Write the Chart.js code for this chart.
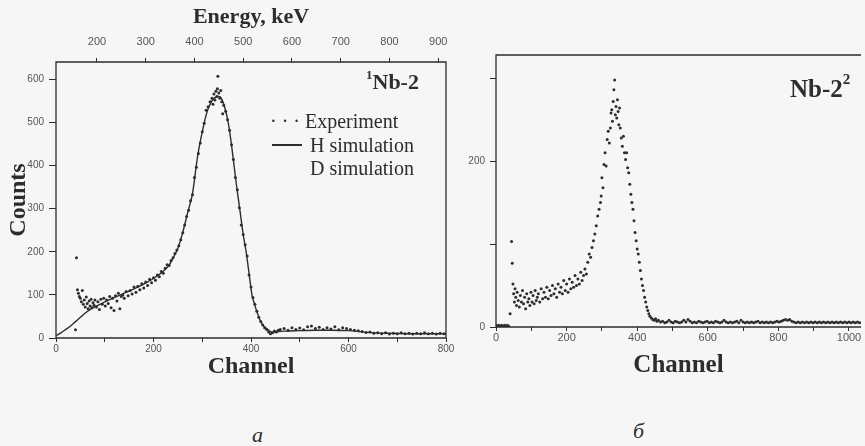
<!DOCTYPE html>
<html>
<head>
<meta charset="utf-8">
<script src="https://cdn.jsdelivr.net/npm/chart.js@4.4.1/dist/chart.umd.min.js"></script>
<style>
  body { margin: 0; background: #f6f6f6; }
  #page { position: relative; width: 865px; height: 446px; overflow: hidden; background: #f6f6f6;
          font-family: "Liberation Serif", "Times New Roman", serif; color: #2d2d2d; }
  canvas { position: absolute; top: 0; }
  #chart-a { left: 0; }
  #chart-b { left: 460px; }
  .txt { position: absolute; white-space: nowrap; line-height: 1; }
  .tag { font-weight: bold; }
  .tag sup { font-size: 13px; position: relative; top: -2px; }
  .leg { font-size: 20px; }
  .panel { font-style: italic; font-size: 22px; }
  .dash { position: absolute; height: 2px; background: #2d2d2d; }
</style>
</head>
<body>
<div id="page">
  <canvas id="chart-a" width="460" height="400"></canvas>
  <canvas id="chart-b" width="405" height="400"></canvas>

  <div class="txt tag" style="left:366px; top:70px; font-size:22px;"><sup>1</sup>Nb-2</div>
  <div class="txt leg" style="left:270px; top:111px;">· · · Experiment</div>
  <div class="dash" style="left:272px; top:144px; width:30px;"></div>
  <div class="txt leg" style="left:310px; top:135px;">H simulation</div>
  <div class="txt leg" style="left:310px; top:158px;">D simulation</div>
  <div class="txt panel" style="left:252px; top:424px;">a</div>

  <div class="txt tag" style="left:790px; top:76px; font-size:25px;">Nb-2<sup style="font-size:15px; top:-4px;">2</sup></div>
  <div class="txt panel" style="left:633px; top:420px;">б</div>
</div>

<script>
// panel a: experiment points
const expChannelA = [
  40, 42, 44, 46, 48, 50, 52, 54, 56, 58, 60, 62, 64, 66, 68, 70, 72, 74, 76, 78,
  80, 83, 86, 89, 92, 95, 98, 101, 104, 107, 110, 113, 116, 119, 122, 125, 128, 131, 134, 137,
  140, 144, 148, 152, 156, 160, 164, 168, 172, 176, 180, 184, 188, 192, 196, 200, 204, 208, 212, 216,
  220, 224, 228, 232, 236, 240, 244, 248, 252, 256, 260, 264, 268, 272, 276, 280, 284, 288, 292, 296,
  300, 304, 308, 312, 316, 320, 322, 324, 326, 328, 330, 331, 332, 334, 336, 338, 340, 342, 344, 348,
  352, 356, 360, 364, 368, 372, 376, 380, 384, 388, 392, 396, 400, 404, 408, 412, 416, 420, 424, 428,
  432, 436, 440, 444, 448, 452, 456, 460, 468, 476, 484, 492, 500, 508, 516, 524, 532, 540, 548, 556,
  564, 572, 580, 588, 596, 604, 612, 620, 628, 636, 644, 652, 660, 668, 676, 684, 692, 700, 708, 716,
  724, 732, 740, 748, 756, 764, 772, 780, 788, 796
];
const expCountsA = [
  19, 186, 112, 104, 96, 92, 84, 110, 78, 88, 72, 95, 80, 68, 86, 74, 90, 70, 82, 76,
  88, 72, 84, 66, 90, 78, 92, 74, 88, 80, 96, 70, 92, 64, 98, 86, 104, 68, 96, 100,
  92, 108, 98, 110, 102, 118, 106, 120, 112, 126, 116, 130, 122, 136, 128, 140, 134, 146, 142, 154,
  150, 162, 170, 168, 180, 186, 196, 204, 214, 228, 244, 262, 282, 296, 318, 332, 372, 396, 428, 452,
  478, 498, 528, 536, 548, 556, 542, 566, 552, 572, 560, 578, 607, 568, 556, 574, 548, 520, 540, 526,
  506, 482, 448, 414, 372, 344, 302, 262, 240, 216, 190, 146, 118, 94, 78, 62, 48, 38, 30, 24,
  20, 14, 10, 12, 16, 14, 18, 20, 22, 18, 24, 20, 23, 19, 26, 28, 22, 25, 20, 24,
  21, 26, 19, 24, 22, 20, 18, 17, 15, 13, 14, 11, 12, 10, 12, 9, 11, 10, 12, 10,
  11, 9, 11, 10, 12, 10, 11, 9, 11, 10
];

// panel a: H simulation curve
const hChannelA = [
  0, 10, 20, 30, 40, 50, 60, 70, 80, 90, 100, 120, 140, 160, 180, 200, 215, 230, 240, 250,
  260, 270, 280, 290, 300, 310, 320, 330, 338, 346, 354, 362, 370, 378, 384, 390, 396, 402, 408, 414,
  420, 426, 432, 438, 444, 450, 470, 500, 530, 560, 600, 640, 680, 720, 760, 800
];
const hCountsA = [
  5, 12, 20, 28, 38, 48, 58, 66, 72, 78, 84, 94, 104, 114, 125, 138, 150, 166, 185, 208,
  245, 290, 335, 418, 478, 525, 550, 560, 558, 535, 495, 430, 356, 290, 240, 200, 150, 100, 75, 55,
  38, 28, 22, 16, 13, 14, 16, 17, 18, 18, 17, 13, 11, 10, 10, 10
];

// panel b: experiment points
const expChannelB = [
  0, 4, 8, 12, 16, 20, 24, 28, 32, 36,
  40, 44, 46, 48, 50, 52, 54, 56, 58, 60, 63, 66, 69, 72, 75, 78, 81, 84, 87, 90,
  93, 96, 99, 102, 105, 108, 111, 114, 117, 120, 124, 128, 132, 136, 140, 144, 148, 152, 156, 160,
  164, 168, 172, 176, 180, 184, 188, 192, 196, 200, 204, 208, 212, 216, 220, 224, 228, 232, 236, 240,
  244, 248, 252, 256, 260, 264, 268, 272, 276, 280, 284, 288, 292, 296, 298, 300, 303, 306, 309, 312,
  315, 318, 321, 324, 326, 328, 330, 332, 334, 336, 338, 340, 342, 344, 346, 348, 350, 352, 355, 358,
  361, 364, 367, 370, 373, 376, 379, 382, 385, 388, 391, 394, 397, 400, 403, 406, 409, 412, 415, 418,
  421, 424, 427, 430, 433, 436, 440, 444, 448, 452, 456, 460, 466, 472, 478, 484, 490, 496, 502, 508,
  514, 520, 526, 532, 538, 544, 550, 556, 562, 568, 574, 580, 586, 592, 598, 604, 610, 616, 622, 628,
  634, 640, 646, 652, 658, 664, 670, 676, 682, 688, 694, 700, 706, 712, 718, 724, 730, 736, 742, 748,
  754, 760, 766, 772, 778, 784, 790, 796, 802, 808, 814, 820, 826, 832, 838, 844, 850, 856, 862, 868,
  874, 880, 886, 892, 898, 904, 910, 916, 922, 928, 934, 940, 946, 952, 958, 964, 970, 976, 982, 988,
  994, 1000, 1006, 1012, 1018, 1024, 1030
];
const expCountsB = [
  2, 1, 2, 1, 2, 1, 2, 1, 2, 1,
  16, 103, 77, 52, 40, 30, 46, 36, 26, 42, 32, 24, 38, 30, 44, 28, 36, 22, 40, 30,
  34, 26, 42, 30, 38, 28, 44, 32, 36, 40, 30, 46, 34, 42, 36, 48, 34, 44, 38, 50,
  40, 46, 36, 52, 42, 48, 40, 56, 44, 52, 42, 58, 46, 54, 48, 62, 50, 58, 52, 66,
  56, 62, 70, 64, 78, 88, 84, 96, 104, 112, 122, 134, 142, 150, 158, 180, 168, 196, 210, 194,
  226, 236, 222, 240, 258, 262, 248, 272, 286, 298, 256, 266, 252, 274, 260, 244, 264, 240, 228, 218,
  230, 210, 202, 210, 192, 186, 172, 160, 150, 142, 128, 114, 104, 94, 88, 78, 68, 58, 50, 44,
  36, 30, 24, 20, 16, 13, 11, 9, 8, 10, 7, 8, 6, 7, 5, 6, 8, 6, 5, 7,
  6, 5, 6, 8, 6, 9, 7, 5, 6, 5, 7, 6, 5, 6, 7, 5, 6, 5, 7, 6,
  5, 6, 8, 6, 5, 6, 5, 6, 7, 5, 8, 6, 5, 6, 5, 6, 5, 6, 7, 5,
  6, 5, 6, 5, 6, 5, 6, 7, 6, 7, 8, 9, 8, 9, 7, 6, 5, 6, 5, 6,
  5, 6, 5, 6, 5, 6, 5, 6, 5, 6, 5, 6, 5, 6, 5, 6, 5, 6, 5, 6,
  5, 6, 5, 6, 5, 6, 5
];

// axis ticks
const xTicksA = [0, 100, 200, 300, 400, 500, 600, 700, 800];
const xLabelsA = ["0", "", "200", "", "400", "", "600", "", "800"];
const energyTicksA = [200, 300, 400, 500, 600, 700, 800, 900];
const yTicksA = [0, 100, 200, 300, 400, 500, 600];
const xTicksB = [0, 100, 200, 300, 400, 500, 600, 700, 800, 900, 1000];
const xLabelsB = ["0", "", "200", "", "400", "", "600", "", "800", "", "1000"];
const yTicksB = [0, 100, 200, 300];
const yLabelsB = ["0", "", "200", ""];

const ink = "#2d2d2d";
const tickInk = "#555555";
const serif = "'Liberation Serif', 'Times New Roman', serif";

function toPoints(xs, ys) {
  return xs.map((x, i) => ({ x: x, y: ys[i] }));
}

function fixedTicks(values) {
  return (scale) => {
    scale.ticks = values.map((v) => ({ value: v }));
  };
}

const framePlugin = {
  id: "frame",
  afterDatasetsDraw(chart, args, opts) {
    const { ctx, chartArea } = chart;
    const { left, right, top, bottom } = chartArea;
    ctx.save();
    ctx.strokeStyle = ink;
    ctx.lineWidth = 1.3;
    ctx.beginPath();
    ctx.moveTo(left, bottom);
    ctx.lineTo(left, top);
    ctx.lineTo(right, top);
    if (opts.right) {
      ctx.lineTo(right, bottom);
    } else {
      ctx.moveTo(right, bottom);
    }
    ctx.lineTo(left, bottom);
    ctx.stroke();
    ctx.restore();
  }
};

function tickGrid(len) {
  return {
    display: true,
    drawOnChartArea: false,
    drawTicks: true,
    tickLength: len,
    tickColor: ink,
    tickWidth: 1
  };
}

function tickFont(size) {
  return { family: "'Liberation Sans', sans-serif", size: size };
}

const chartA = new Chart(document.getElementById("chart-a"), {
  type: "scatter",
  data: {
    datasets: [
      {
        label: "Experiment",
        data: toPoints(expChannelA, expCountsA),
        pointRadius: 1.5,
        pointBorderWidth: 0,
        pointBackgroundColor: ink,
        showLine: false
      },
      {
        label: "H simulation",
        data: toPoints(hChannelA, hCountsA),
        showLine: true,
        pointRadius: 0,
        borderColor: ink,
        borderWidth: 1.4,
        tension: 0.3
      }
    ]
  },
  options: {
    responsive: false,
    animation: false,
    events: [],
    layout: { padding: { top: 0, left: 0, right: 14, bottom: 19 } },
    plugins: {
      legend: { display: false },
      tooltip: { enabled: false },
      frame: { right: true }
    },
    scales: {
      x: {
        type: "linear",
        position: "bottom",
        min: 0,
        max: 800,
        afterBuildTicks: fixedTicks(xTicksA),
        afterFit: (s) => { s.height = 43; },
        grid: tickGrid(4),
        border: { display: false },
        ticks: {
          autoSkip: false,
          maxRotation: 0,
          padding: 1,
          color: tickInk,
          font: tickFont(10),
          callback: (v, i) => xLabelsA[i]
        },
        title: {
          display: true,
          text: "Channel",
          color: ink,
          font: { family: serif, size: 24, weight: "bold" },
          padding: { top: 0, bottom: 0 }
        }
      },
      x2: {
        type: "linear",
        position: "top",
        min: 116,
        max: 916,
        afterBuildTicks: fixedTicks(energyTicksA),
        afterFit: (s) => { s.height = 62; },
        grid: tickGrid(4),
        border: { display: false },
        ticks: {
          autoSkip: false,
          maxRotation: 0,
          padding: 9,
          color: tickInk,
          font: tickFont(11)
        },
        title: {
          display: true,
          text: "Energy, keV",
          color: ink,
          font: { family: serif, size: 22, weight: "bold" },
          padding: { top: 4, bottom: 0 }
        }
      },
      y: {
        min: 0,
        max: 640,
        afterBuildTicks: fixedTicks(yTicksA),
        afterFit: (s) => { s.width = 56; },
        grid: tickGrid(7),
        border: { display: false },
        ticks: {
          padding: 5,
          color: tickInk,
          font: tickFont(10)
        },
        title: {
          display: true,
          text: "Counts",
          color: ink,
          font: { family: serif, size: 24, weight: "bold" },
          padding: { top: 4, bottom: 0 }
        }
      }
    }
  },
  plugins: [framePlugin]
});

const chartB = new Chart(document.getElementById("chart-b"), {
  type: "scatter",
  data: {
    datasets: [
      {
        label: "Experiment",
        data: toPoints(expChannelB, expCountsB),
        pointRadius: 1.5,
        pointBorderWidth: 0,
        pointBackgroundColor: ink,
        showLine: false
      }
    ]
  },
  options: {
    responsive: false,
    animation: false,
    events: [],
    layout: { padding: { top: 55, left: 0, right: 0, bottom: 19 } },
    plugins: {
      legend: { display: false },
      tooltip: { enabled: false },
      frame: { right: false }
    },
    scales: {
      x: {
        type: "linear",
        min: 0,
        max: 1034,
        afterBuildTicks: fixedTicks(xTicksB),
        afterFit: (s) => { s.height = 54; },
        grid: tickGrid(4),
        border: { display: false },
        ticks: {
          autoSkip: false,
          maxRotation: 0,
          padding: 0,
          color: tickInk,
          font: tickFont(11),
          callback: (v, i) => xLabelsB[i]
        },
        title: {
          display: true,
          text: "Channel",
          color: ink,
          font: { family: serif, size: 25, weight: "bold" },
          padding: { top: 0, bottom: 0 }
        }
      },
      y: {
        min: 0,
        max: 328,
        afterBuildTicks: fixedTicks(yTicksB),
        afterFit: (s) => { s.width = 36; },
        grid: tickGrid(6),
        border: { display: false },
        ticks: {
          padding: 5,
          color: tickInk,
          font: tickFont(10),
          callback: (v, i) => yLabelsB[i]
        }
      }
    }
  },
  plugins: [framePlugin]
});
</script>
</body>
</html>
